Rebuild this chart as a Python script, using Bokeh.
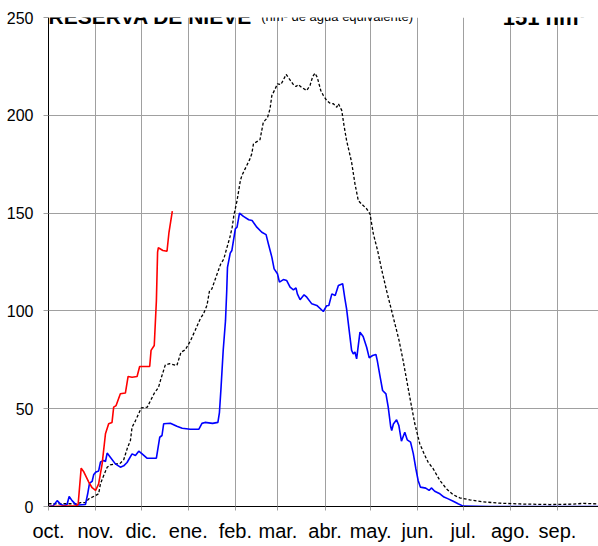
from bokeh.plotting import figure
from bokeh.models import FixedTicker, Label, Range1d
from bokeh.embed import file_html
from bokeh.resources import INLINE

# ---------------- data ----------------
month_labels = ["oct.", "nov.", "dic.", "ene.", "feb.", "mar.", "abr.", "may.",
                "jun.", "jul.", "ago.", "sep."]
month_start_days = [0, 31, 61, 92, 123, 151, 182, 212, 243, 273, 304, 335]
y_ticks = [0, 50, 100, 150, 200, 250]

# current season (red), day counted from 1 Oct
red_day = [0, 18, 19.5, 21.5, 23.3, 26.5, 28.7, 31, 33, 35.3, 37.5, 39.6, 41.8, 42.9,
           44.5, 47.3, 50.6, 52.4, 55, 58.3, 60, 66.6, 67.5, 69.6, 71, 71.8, 72.3,
           75.3, 78, 79.3, 81.5]
red_val = [0, 0.3, 1, 19.6, 17.6, 12.5, 9.6, 8.2, 11.6, 21.8, 37.2, 42.3, 43, 50.8,
           51.6, 57.6, 58, 66.5, 66.1, 66.5, 71.6, 71.6, 79.8, 82.3, 105, 130, 132.3,
           130.9, 130.5, 140.2, 151]

# reference season (blue)
blue_day = [0, 3, 5.7, 7.9, 10.1, 12.2, 13.6, 15.5, 17.7, 19.8, 24.3, 25.8, 27, 28.7,
            29.8, 31.3, 33, 34.2, 36.4, 37.5, 38.6, 40.7, 44, 47.3, 49.5, 51.7, 55,
            57.2, 59.4, 61.6, 64.8, 71, 73.2, 74.7, 75.8, 80.2, 84.5, 88, 93.3, 99,
            101, 103, 108, 111.5, 112.5, 113.5, 115, 116.5, 117.3, 117.8, 119.6,
            120.7, 123, 124.1, 125.7, 128.3, 131.8, 134, 137.1, 140.4, 143.2, 144.7,
            147, 148.5, 150.7, 152, 154.6, 156.8, 159, 161.2, 162.9, 163.8, 165.6,
            168.2, 170, 173.3, 176.6, 180.9, 183, 184.5, 186.5, 188.7, 190.8, 193.6,
            195.1, 196.2, 197.9, 199.5, 200.6, 201.7, 202.8, 205, 207.1, 209.4,
            211.1, 213.3, 215.5, 216.4, 218.1, 219.9, 222.1, 223.6, 225.2, 225.9,
            227, 229.1, 230.6, 232.3, 234.5, 236.1, 238.3, 240.1, 241.8, 243.3,
            244.8, 248.3, 250.5, 252, 254.2, 257.6, 260.3, 263.1, 266.4, 269.6,
            272.9, 290, 362]
blue_val = [0, 0.3, 3, 1.2, 0.4, 1, 5.1, 3, 1.2, 0.8, 1, 6.5, 11.9, 12.8,
            16.4, 17.7, 18.2, 22.7, 23.5, 23, 27.3, 25.2, 21.8, 20.1, 20.8, 22.5, 26.9,
            26.1, 28.3, 26.9, 24.7, 24.7, 35.4, 36.3, 42.3, 42.6, 41, 40, 39.5, 39.5,
            42.5, 43, 42.5, 43, 48, 60, 80, 95, 110, 122.3, 129.5,
            130.9, 142, 142.8, 150, 148.3, 146.6, 146.2, 142.8, 140.2, 139, 134.3,
            127.5, 121.5, 119, 114.7, 116, 115.5, 112.1, 110.8, 111.8, 108.7, 105.7,
            108.2, 107, 103.6, 102.8, 99.7, 102.6, 102.8, 108.7, 107.9, 113, 113.9,
            106.2, 101, 90, 79.8, 78, 79, 75.5, 89.1, 86.9, 81.4,
            76, 77.2, 77.7, 74.6, 67, 59.3, 57.6, 50.8, 40.9, 38.8,
            42.2, 44.3, 41.4, 33.4, 38, 34.1, 32.9, 27, 19.3, 13.3,
            9.9, 9.4, 8.2, 9.5, 7.8, 6.5, 4.8, 3.9, 2.7, 1.4,
            0.2, 0, 0]

# average (black dashed)
avg_day = [0, 19, 21, 24.3, 26.5, 30.9, 33, 34.2, 35.9, 38.6, 40.7, 44, 46.8, 49.5,
           52.1, 53.9, 55, 57.2, 61.1, 65, 67.2, 69.6, 72.4, 74, 76.9, 79.7, 84.5,
           87.2, 90, 93.3, 96.5, 99.9, 102, 104.3, 106, 107.5, 110.6, 113.2, 115.4,
           117.2, 119.4, 120.9, 122, 124.1, 126.3, 127.3, 129.4, 132.3, 133.8, 134.9,
           136.6, 139.2, 141.4, 144.1, 145.8, 147, 149.2, 150.7, 152.9, 154.6, 156.4,
           158.5, 161.2, 162.9, 164.4, 166.6, 169.9, 172.1, 173.9, 175.4, 176.9,
           179.2, 180.9, 183.1, 185.3, 187.5, 189.7, 190.8, 193, 194.5, 196.2, 198,
           199.5, 201.7, 203.9, 206.1, 209.4, 211.6, 213.8, 216.6, 219.4, 222.5,
           225.8, 229.1, 230.7, 233.4, 237.8, 241.1, 244.4, 247.7, 249.9, 253.2,
           257.6, 262, 266.4, 270.7, 277.3, 286, 297, 310, 330, 345, 352, 362]
avg_val = [1.4, 1.4, 2, 2, 3.9, 5.6, 6.5, 11.6, 15, 20.1, 21.3, 21.8, 21.8, 23.9,
           30.3, 33.7, 40.5, 43.8, 50.4, 50.8, 54.2, 57.9, 60.9, 65.3, 72.4, 73, 72.1,
           78.9, 80.1, 84.5, 90, 96, 98.5, 102.8, 110.4, 111.2, 118.1, 123.7, 126.6,
           131.7, 137.7, 142.8, 148.8, 156.4, 166.7, 169.2, 172.6, 177.2, 180.3, 185.4,
           186.3, 187.5, 196.5, 198.7, 203.3, 210.1, 213.5, 216.1, 215.7, 218.1, 220.9,
           218.6, 215.7, 214.7, 215.7, 214.3, 212.7, 215.2, 219.8, 221.5, 219.4,
           212.7, 210.1, 207.6, 206.2, 205.9, 204.1, 205.9, 202.5, 194.8, 187.1, 181.1,
           176, 165, 156.4, 154.6, 152.2, 149.6, 139.4, 130.9, 120.7, 110.4,
           100.2, 90, 85, 74.6, 55.9, 42.3, 32, 26.1, 22.6, 19.3,
           13.3, 9, 6, 4.4, 3.4, 2.4, 1.7, 1.3, 1.0, 1.2, 1.6, 1.3]

FONT = "Liberation Sans"
GRID = "#a0a0a0"

p = figure(width=598, height=546, output_backend="svg", toolbar_location=None,
           x_range=Range1d(0, 362), y_range=Range1d(0, 250),
           min_border_left=48, min_border_right=0, min_border_top=17,
           min_border_bottom=40)
p.outline_line_color = None
p.background_fill_color = "white"
p.border_fill_color = "white"

# axes
p.xaxis.ticker = FixedTicker(ticks=month_start_days)
p.xaxis.major_label_overrides = {d: l for d, l in zip(month_start_days, month_labels)}
p.xaxis.axis_line_color = "black"
p.xaxis.major_tick_line_color = GRID
p.xaxis.major_tick_out = 4
p.xaxis.major_tick_in = 0
p.xaxis.minor_tick_line_color = None
p.xaxis.major_label_text_font = FONT
p.xaxis.major_label_text_font_size = "20px"
p.xaxis.major_label_text_color = "black"
p.xaxis.major_label_standoff = 9

p.yaxis.ticker = FixedTicker(ticks=y_ticks)
p.yaxis.axis_line_color = "black"
p.yaxis.major_tick_line_color = GRID
p.yaxis.major_tick_out = 5
p.yaxis.major_tick_in = 0
p.yaxis.minor_tick_line_color = None
p.yaxis.major_label_text_font = FONT
p.yaxis.major_label_text_font_size = "16px"
p.yaxis.major_label_text_color = "black"
p.yaxis.major_label_standoff = 10

p.xgrid.ticker = FixedTicker(ticks=month_start_days)
p.ygrid.ticker = FixedTicker(ticks=y_ticks)
for g in (p.xgrid, p.ygrid):
    g.grid_line_color = GRID
    g.grid_line_width = 1

# series
p.line(avg_day, avg_val, line_color="black", line_width=1.3, line_dash="3 2")
p.line(blue_day, blue_val, line_color="#0000ff", line_width=1.6)
p.line(red_day, red_val, line_color="#ff0000", line_width=1.6)

# titles, sitting just above the top (250) grid line
p.add_layout(Label(x=0, y=250, y_offset=1.5, text="RESERVA DE NIEVE", text_font=FONT,
                   text_font_style="bold", text_font_size="21px",
                   text_baseline="alphabetic", text_align="left", text_color="black"))
p.add_layout(Label(x=140, y=250, y_offset=1.5, text="(hm³ de agua equivalente)",
                   text_font=FONT, text_font_size="13px", text_baseline="alphabetic",
                   text_align="left", text_color="black"))
p.add_layout(Label(x=299, y=250, y_offset=0.5, text=f"{red_val[-1]:.0f} hm³", text_font=FONT,
                   text_font_style="bold", text_font_size="22px",
                   text_baseline="alphabetic", text_align="left", text_color="black"))

open("out.html", "w").write(file_html(p, INLINE))
